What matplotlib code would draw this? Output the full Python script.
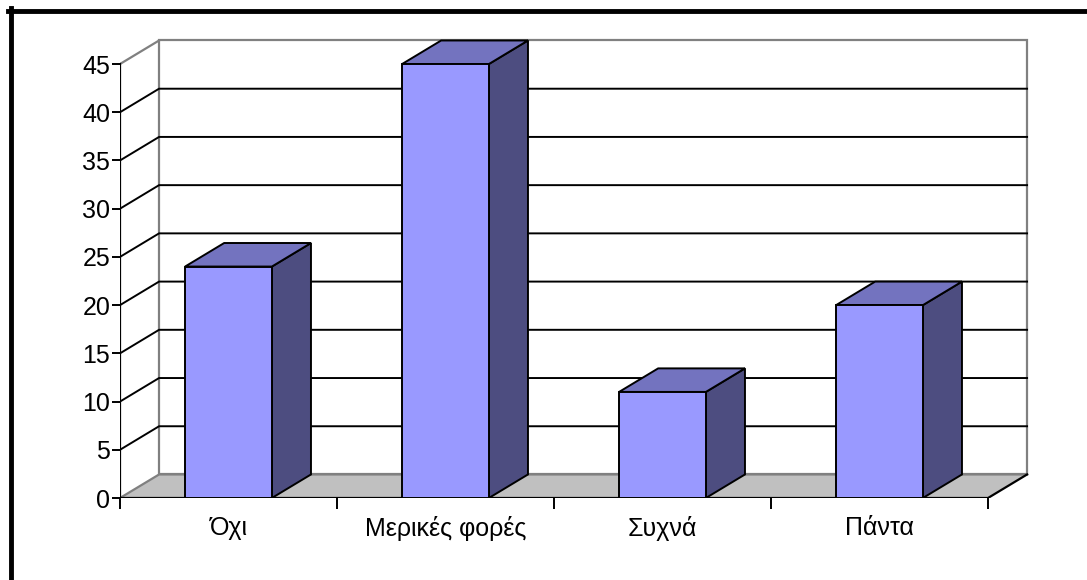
import matplotlib
matplotlib.use("Agg")
import matplotlib.pyplot as plt
from matplotlib.patches import Polygon
from matplotlib.lines import Line2D
import numpy as np

plt.rcParams['font.family'] = ['Liberation Sans', 'DejaVu Sans']

categories = ['Όχι', 'Μερικές φορές', 'Συχνά', 'Πάντα']
values = [24, 45, 11, 20]
yticks = [0, 5, 10, 15, 20, 25, 30, 35, 40, 45]

front_col = '#9999FF'
top_col = '#7373BF'
side_col = '#4D4D80'
wall_edge = '#808080'

# depth of the fake 3d box, in data units
ddx = 0.18
ddy = 2.44
ymax = yticks[-1]
n = len(categories)

fig = plt.figure(figsize=(10.87, 5.8), dpi=100)
W, H = 1087, 580
ax = fig.add_axes([120 / W, (H - 498) / H, 4.25 * 217 / W, 48 * 9.644 / H])
ax.set_xlim(0, 4.25)
ax.set_ylim(0, 48)
for s in ax.spines.values():
    s.set_visible(False)
ax.patch.set_alpha(0)

def poly(pts, fc, ec='none', lw=0, z=1):
    ax.add_patch(Polygon(pts, closed=True, facecolor=fc, edgecolor=ec,
                         linewidth=lw, zorder=z, joinstyle='miter'))

# back wall and side wall
poly([(ddx, ddy), (n + ddx, ddy), (n + ddx, ymax + ddy), (ddx, ymax + ddy)],
     'white', wall_edge, 1.6, 1)
ax.plot([0, ddx], [ymax, ymax + ddy], color=wall_edge, lw=1.6, zorder=1)

# gridlines on side wall and back wall
for v in yticks[1:-1]:
    ax.plot([0, ddx, n + ddx], [v, v + ddy, v + ddy], color='black',
            lw=1.4, zorder=2, solid_joinstyle='miter')

# floor
poly([(0, 0), (n, 0), (n + ddx, ddy), (ddx, ddy)], '#C0C0C0', z=3)
ax.plot([0, ddx, n + ddx], [0, ddy, ddy], color=wall_edge, lw=1.6, zorder=3)
ax.plot([0, n, n + ddx], [0, 0, ddy], color='black', lw=1.6, zorder=3)

# front value axis
ax.plot([0, 0], [0, ymax], color='black', lw=1.6, zorder=3)

# columns
bw = 0.4
for i, v in enumerate(values):
    c = i + 0.5
    x0, x1 = c - bw / 2, c + bw / 2
    poly([(x1, 0), (x1 + ddx, ddy), (x1 + ddx, v + ddy), (x1, v)],
         side_col, 'black', 1.4, 4)
    poly([(x0, v), (x1, v), (x1 + ddx, v + ddy), (x0 + ddx, v + ddy)],
         top_col, 'black', 1.4, 4)
    poly([(x0, 0), (x1, 0), (x1, v), (x0, v)], front_col, 'black', 1.4, 5)

ax.set_yticks(yticks)
ax.set_yticklabels([str(t) for t in yticks])
ax.tick_params(axis='y', direction='out', length=6, width=1.4, pad=1,
               labelsize=18, colors='black')
ax.set_xticks(np.arange(n + 1))
ax.set_xticklabels([])
ax.set_xticks(np.arange(n) + 0.5, minor=True)
ax.set_xticklabels(categories, minor=True)
ax.tick_params(axis='x', which='major', direction='out', length=8, width=1.4)
ax.tick_params(axis='x', which='minor', length=0, pad=13, labelsize=18)

# outer chart frame (top and left)
fig.add_artist(Line2D([8 / W, 1], [1 - 10.5 / H, 1 - 10.5 / H],
                      transform=fig.transFigure, color='black', lw=3.5))
fig.add_artist(Line2D([10.5 / W, 10.5 / W], [0, 1 - 8 / H],
                      transform=fig.transFigure, color='black', lw=3.5))

fig.savefig('out.png', dpi=100)
